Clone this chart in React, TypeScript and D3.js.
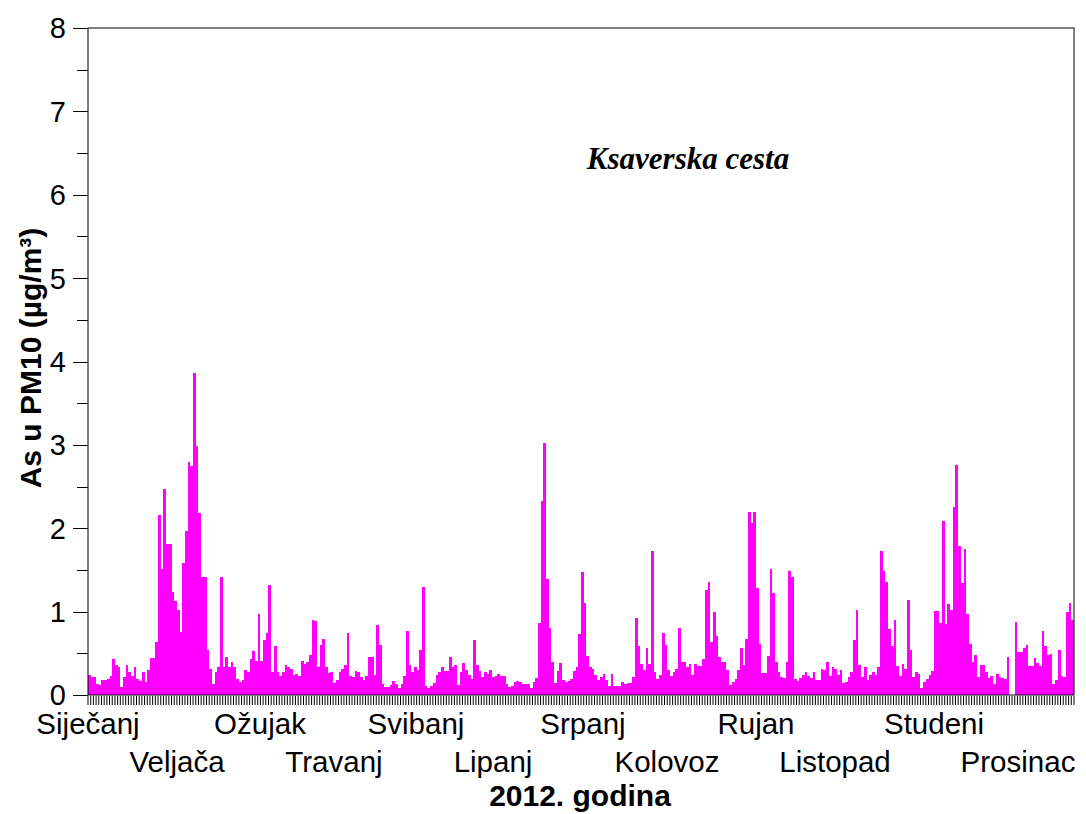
import React, { useEffect, useRef } from 'react';
import * as d3 from 'd3';

// Daily As in PM10, Ksaverska cesta, 2012
const jan = [0.24, 0.22, 0.22, 0.13, 0.12, 0.18, 0.18, 0.19, 0.23, 0.43, 0.36, 0.33, 0.10, 0.21, 0.36, 0.27,
  0.23, 0.33, 0.19, 0.17, 0.27, 0.16, 0.30, 0.44, 0.44, 0.64, 2.16, 1.51, 2.47, 1.81, 1.81];
const feb = [1.23, 1.13, 1.02, 0.76, 1.58, 1.97, 2.79, 2.75, 3.86, 2.99, 2.18, 1.41, 1.42, 0.54, 0.31, 0.13,
  0.28, 0.34, 1.42, 0.33, 0.45, 0.33, 0.40, 0.34, 0.19, 0.15, 0.18, 0.30, 0.27];
const mar = [0.43, 0.53, 0.41, 0.97, 0.41, 0.66, 0.74, 1.32, 0.28, 0.59, 0.28, 0.23, 0.28, 0.36, 0.34, 0.31,
  0.24, 0.25, 0.23, 0.41, 0.37, 0.39, 0.48, 0.90, 0.89, 0.33, 0.60, 0.67, 0.34, 0.26, 0.27];
const apr = [0.14, 0.18, 0.27, 0.31, 0.36, 0.74, 0.23, 0.21, 0.29, 0.27, 0.21, 0.18, 0.23, 0.45, 0.45, 0.24,
  0.84, 0.60, 0.13, 0.10, 0.10, 0.12, 0.17, 0.13, 0.08, 0.13, 0.23, 0.77, 0.36, 0.28];
const may = [0.34, 0.30, 0.54, 1.29, 0.11, 0.08, 0.11, 0.14, 0.24, 0.27, 0.33, 0.29, 0.29, 0.45, 0.33, 0.36,
  0.12, 0.27, 0.38, 0.30, 0.24, 0.19, 0.66, 0.36, 0.29, 0.21, 0.27, 0.25, 0.30, 0.21, 0.23];
const jun = [0.25, 0.23, 0.23, 0.13, 0.10, 0.11, 0.15, 0.17, 0.15, 0.13, 0.13, 0.13, 0.08, 0.15, 0.20, 0.86,
  2.33, 3.02, 1.39, 0.80, 0.40, 0.14, 0.29, 0.38, 0.18, 0.16, 0.17, 0.19, 0.29, 0.33];
const jul = [0.73, 1.48, 1.10, 0.47, 0.34, 0.31, 0.24, 0.18, 0.21, 0.25, 0.18, 0.11, 0.25, 0.11, 0.11, 0.11,
  0.15, 0.13, 0.14, 0.14, 0.21, 0.92, 0.59, 0.37, 0.30, 0.56, 0.37, 1.73, 0.27, 0.19, 0.24];
const aug = [0.74, 0.60, 0.30, 0.23, 0.27, 0.31, 0.80, 0.40, 0.40, 0.34, 0.37, 0.24, 0.37, 0.35, 0.35, 0.43,
  1.26, 1.35, 0.63, 1.00, 0.71, 0.45, 0.40, 0.40, 0.30, 0.12, 0.15, 0.19, 0.30, 0.56, 0.36];
const sep = [0.67, 2.20, 2.06, 2.20, 1.28, 0.61, 0.26, 0.26, 0.47, 1.51, 1.22, 0.40, 0.27, 0.21, 0.20, 0.40,
  1.49, 1.41, 0.19, 0.17, 0.20, 0.24, 0.27, 0.23, 0.20, 0.27, 0.18, 0.18, 0.31, 0.30];
const oct = [0.40, 0.23, 0.34, 0.31, 0.24, 0.30, 0.14, 0.16, 0.22, 0.27, 0.66, 1.02, 0.36, 0.21, 0.34, 0.18,
  0.24, 0.27, 0.24, 0.33, 1.73, 1.49, 1.35, 0.79, 0.59, 0.90, 0.35, 0.23, 0.37, 0.31, 1.14];
const nov = [0.54, 0.21, 0.27, 0.25, 0.08, 0.15, 0.19, 0.24, 0.29, 1.01, 1.01, 0.86, 2.09, 0.85, 1.09, 1.02,
  2.26, 2.76, 1.79, 1.34, 1.75, 0.97, 0.61, 0.39, 0.48, 0.21, 0.36, 0.36, 0.28, 0.20];
const dec = [0.23, 0.13, 0.25, 0.21, 0.20, 0.19, 0.45, 0, 0, 0.88, 0.51, 0.51, 0.56, 0.60, 0.35, 0.35,
  0.44, 0.38, 0.35, 0.77, 0.59, 0.48, 0.49, 0.13, 0.18, 0.54, 0.23, 0.21, 1.00, 1.10, 0.90];

const monthValues = [jan, feb, mar, apr, may, jun, jul, aug, sep, oct, nov, dec];
const monthNames = ['Siječanj', 'Veljača', 'Ožujak', 'Travanj', 'Svibanj', 'Lipanj',
  'Srpanj', 'Kolovoz', 'Rujan', 'Listopad', 'Studeni', 'Prosinac'];
const yTicks = [0, 1, 2, 3, 4, 5, 6, 7, 8];

const W = 1086;
const H = 814;
const margin = { top: 28, right: 12, bottom: 119, left: 88 };
// label centres as placed by the original plotting program
const monthLabelX = [88, 177, 260, 334, 416, 493, 583, 667, 756, 835, 934, 1018];
const MAGENTA = '#ff00ff';
const SANS = '"Liberation Sans", Arial, sans-serif';

const App: React.FC = () => {
  const svgRef = useRef<SVGSVGElement>(null);

  useEffect(() => {
    if (!svgRef.current) return;
    const svg = d3.select(svgRef.current);
    svg.selectAll('*').remove();

    const daily = monthValues.flat();

    const x0 = margin.left;
    const x1 = W - margin.right;
    const y0 = H - margin.bottom;
    const yTop = margin.top;

    const x = d3.scaleLinear().domain([0, daily.length]).range([x0, x1]);
    const y = d3.scaleLinear().domain([0, 8]).range([y0, yTop]);

    // bars
    svg.append('g')
      .selectAll('rect')
      .data(daily)
      .enter()
      .append('rect')
      .attr('x', (_, i) => x(i))
      .attr('y', d => y(d))
      .attr('width', x(1) - x(0))
      .attr('height', d => y0 - y(d))
      .attr('fill', MAGENTA)
      .attr('shape-rendering', 'crispEdges');

    // frame
    svg.append('rect')
      .attr('x', x0)
      .attr('y', yTop)
      .attr('width', x1 - x0)
      .attr('height', y0 - yTop)
      .attr('fill', 'none')
      .attr('stroke', '#000')
      .attr('stroke-width', 1);

    // y axis ticks
    const yAxis = svg.append('g');
    d3.range(0, 8.01, 0.5).forEach(v => {
      const major = Number.isInteger(v);
      yAxis.append('line')
        .attr('x1', x0 - (major ? 15 : 11))
        .attr('x2', x0)
        .attr('y1', Math.round(y(v)) + 0.5)
        .attr('y2', Math.round(y(v)) + 0.5)
        .attr('stroke', '#000')
        .attr('stroke-width', 1);
    });
    yAxis.selectAll('text')
      .data(yTicks)
      .enter()
      .append('text')
      .attr('x', 66)
      .attr('y', d => y(d))
      .attr('dy', '0.36em')
      .attr('text-anchor', 'end')
      .attr('font-family', SANS)
      .attr('font-size', 29)
      .attr('fill', '#000')
      .text(d => d);

    // daily ticks below x axis
    svg.append('g')
      .selectAll('line')
      .data(d3.range(daily.length + 1))
      .enter()
      .append('line')
      .attr('x1', d => x(d))
      .attr('x2', d => x(d))
      .attr('y1', y0 + 1)
      .attr('y2', y0 + 10)
      .attr('stroke', '#000')
      .attr('stroke-width', 1);

    // month labels, alternating rows
    svg.append('g')
      .selectAll('text')
      .data(monthNames)
      .enter()
      .append('text')
      .attr('x', (_, i) => monthLabelX[i])
      .attr('y', (_, i) => (i % 2 === 0 ? 734 : 772))
      .attr('text-anchor', 'middle')
      .attr('font-family', SANS)
      .attr('font-size', 29.5)
      .attr('fill', '#000')
      .text(d => d);

    // axis titles
    svg.append('text')
      .attr('x', 580)
      .attr('y', 806)
      .attr('text-anchor', 'middle')
      .attr('font-family', SANS)
      .attr('font-weight', 'bold')
      .attr('font-size', 30)
      .text('2012. godina');

    svg.append('text')
      .attr('transform', `translate(41, 358) rotate(-90)`)
      .attr('text-anchor', 'middle')
      .attr('font-family', SANS)
      .attr('font-weight', 'bold')
      .attr('font-size', 30)
      .text('As u PM10 (µg/m³)');

    // station name
    svg.append('text')
      .attr('x', 688)
      .attr('y', 169)
      .attr('text-anchor', 'middle')
      .attr('font-family', '"Liberation Serif", "Times New Roman", serif')
      .attr('font-weight', 'bold')
      .attr('font-style', 'italic')
      .attr('font-size', 31)
      .text('Ksaverska cesta');
  }, []);

  return (
    <svg
      ref={svgRef}
      width={W}
      height={H}
      viewBox={`0 0 ${W} ${H}`}
      style={{ position: 'absolute', left: 0, top: 0, background: '#fff' }}
    />
  );
};

export default App;
